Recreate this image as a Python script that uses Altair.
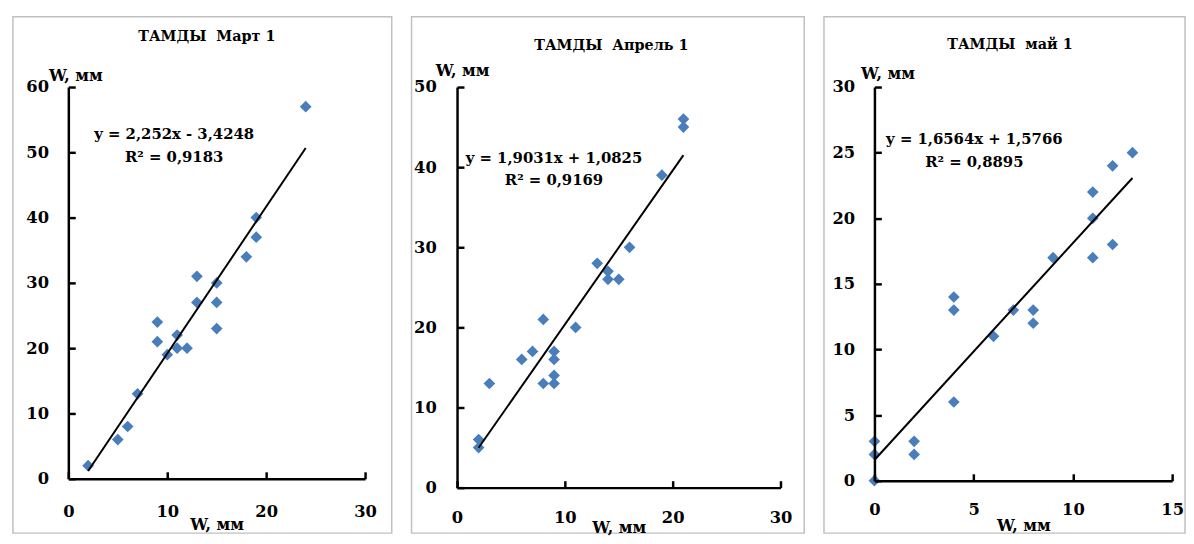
import altair as alt
import pandas as pd

# ---------------- data ----------------
titles = ["ТАМДЫ\u00a0 Март 1", "ТАМДЫ\u00a0 Апрель 1", "ТАМДЫ\u00a0 май 1"]
equations = ["y = 2,252x - 3,4248", "y = 1,9031x + 1,0825", "y = 1,6564x + 1,5766"]
r2_texts = ["R² = 0,9183", "R² = 0,9169", "R² = 0,8895"]
axis_title = "W, мм"

mar_x = [2, 5, 6, 7, 9, 9, 10, 11, 11, 12, 13, 13, 15, 15, 15, 18, 19, 19, 24]
mar_y = [2, 6, 8, 13, 24, 21, 19, 22, 20, 20, 31, 27, 30, 27, 23, 34, 40, 37, 57]

apr_x = [2, 2, 3, 6, 7, 8, 8, 9, 9, 9, 9, 11, 13, 14, 14, 15, 16, 19, 21, 21]
apr_y = [6, 5, 13, 16, 17, 21, 13, 17, 16, 14, 13, 20, 28, 27, 26, 26, 30, 39, 46, 45]

may_x = [0, 0, 0, 2, 2, 4, 4, 4, 6, 7, 8, 8, 9, 11, 11, 11, 12, 12, 13]
may_y = [3, 2, 0, 3, 2, 14, 13, 6, 11, 13, 13, 12, 17, 22, 20, 17, 24, 18, 25]

x_ticks = [[0, 10, 20, 30], [0, 10, 20, 30], [0, 5, 10, 15]]
y_ticks = [[0, 10, 20, 30, 40, 50, 60], [0, 10, 20, 30, 40, 50], [0, 5, 10, 15, 20, 25, 30]]
fit_extent = [[2, 24], [2, 21], [0, 13]]

FONT = "DejaVu Serif"
BLUE = "#4a7ebb"

# layout geometry (pixels, relative to each plot area); all plot tops share one row
geos = [
    dict(W=300, H=396, L=56, R=27, T=71, B=55, tx=140, ty=-51, ex=107, e1=48, e2=71,
         ytx=-20, yty=-12, xty=46, xlp=25, ylp=20),
    dict(W=327, H=405, L=46, R=24, T=71, B=46, tx=156, ty=-41, ex=98, e1=72, e2=94,
         ytx=-22, yty=-17, xty=40, xlp=22, ylp=21),
    dict(W=301, H=398, L=51, R=13, T=71, B=53, tx=137, ty=-42, ex=101, e1=53, e2=76,
         ytx=-14, yty=-14, xty=45, xlp=21, ylp=20),
]


def panel(i, xs, ys):
    g = geos[i]
    df = pd.DataFrame({"x": xs, "y": ys})
    xs_ = alt.Scale(domain=[x_ticks[i][0], x_ticks[i][-1]], nice=False)
    ys_ = alt.Scale(domain=[y_ticks[i][0], y_ticks[i][-1]], nice=False)

    common = dict(grid=False, labelFont=FONT, labelFontSize=16.5, labelFontWeight="bold",
                  labelColor="black", labelFlush=False, labelOverlap=False,
                  domainColor="black", domainWidth=2.5, ticks=False, zindex=2,
                  titleFont=FONT, titleFontSize=16, titleFontWeight="bold",
                  titleColor="black")

    x_axis = alt.Axis(values=x_ticks[i], title=axis_title, labelPadding=g["xlp"],
                      titleX=g["W"] / 2, titleY=g["xty"], titleAlign="center",
                      titleBaseline="middle", **common)
    y_axis = alt.Axis(values=y_ticks[i], title=axis_title, labelPadding=g["ylp"],
                      titleAngle=0, titleX=g["ytx"], titleY=g["yty"], titleAlign="left",
                      titleBaseline="middle", **common)

    tick_common = dict(grid=False, labels=False, domain=False, ticks=True, tickSize=7,
                       tickWidth=2.5, tickColor="black", offset=-7, title=None, zindex=3)
    x_tick_axis = alt.Axis(values=x_ticks[i], orient="bottom", **tick_common)
    y_tick_axis = alt.Axis(values=y_ticks[i], orient="left", **tick_common)

    one = pd.DataFrame({"k": [0]})
    border = alt.Chart(one).mark_rect(fill="white", stroke="#c0c0c0", strokeWidth=1.5).encode(
        x=alt.value(-g["L"]), x2=alt.value(g["W"] + g["R"]),
        y=alt.value(-g["T"]), y2=alt.value(g["H"] + g["B"]),
    )

    points = alt.Chart(df).mark_point(shape="diamond", filled=True, size=140,
                                      color=BLUE, opacity=1).encode(
        x=alt.X("x:Q", scale=xs_, axis=x_axis),
        y=alt.Y("y:Q", scale=ys_, axis=y_axis),
    )

    line = alt.Chart(df).transform_regression("x", "y", extent=fit_extent[i]).mark_line(
        color="black", strokeWidth=2).encode(
        x=alt.X("x:Q", scale=xs_, axis=x_tick_axis),
        y=alt.Y("y:Q", scale=ys_, axis=y_tick_axis),
    )

    txt = dict(font=FONT, fontWeight="bold", color="black", align="center", baseline="middle")
    title_t = alt.Chart(one).mark_text(fontSize=14.5, **txt).encode(
        x=alt.value(g["tx"]), y=alt.value(g["ty"]), text=alt.value(titles[i]))
    eq_t = alt.Chart(one).mark_text(fontSize=15, **txt).encode(
        x=alt.value(g["ex"]), y=alt.value(g["e1"]), text=alt.value(equations[i]))
    r2_t = alt.Chart(one).mark_text(fontSize=15, **txt).encode(
        x=alt.value(g["ex"]), y=alt.value(g["e2"]), text=alt.value(r2_texts[i]))

    return alt.layer(border, points, line, title_t, eq_t, r2_t).resolve_axis(
        x="independent", y="independent"
    ).properties(width=g["W"], height=g["H"])


chart = alt.hconcat(
    panel(0, mar_x, mar_y),
    panel(1, apr_x, apr_y),
    panel(2, may_x, may_y),
    spacing=18,
).properties(
    padding={"left": 4, "top": 5, "right": 0, "bottom": 0}
).configure(background="white").configure_view(strokeWidth=0)

chart.save("out.html", embed_options={"renderer": "svg", "actions": False})
